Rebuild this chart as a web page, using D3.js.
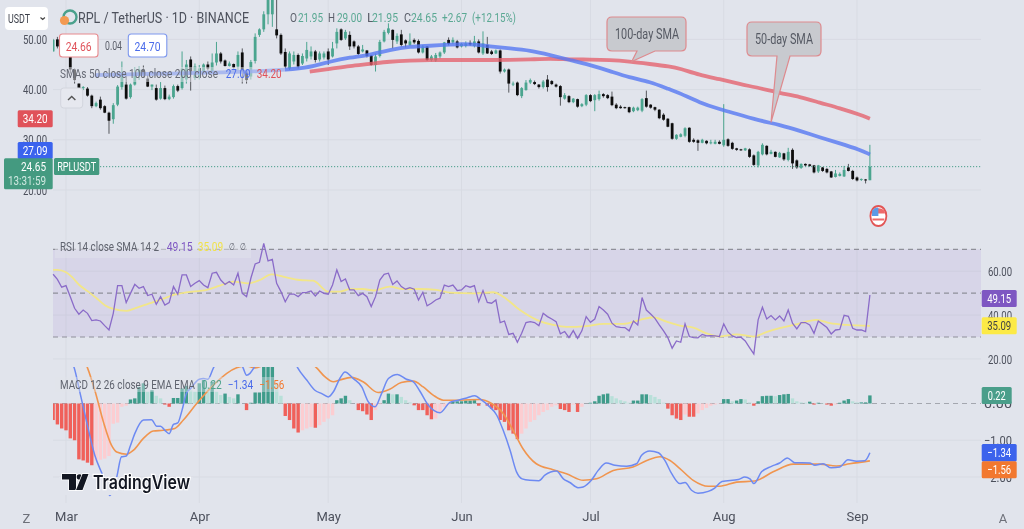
<!DOCTYPE html>
<html>
<head>
<meta charset="utf-8">
<script src="https://cdnjs.cloudflare.com/ajax/libs/d3/7.8.5/d3.min.js"></script>
<style>
html,body{margin:0;padding:0;background:#e1e4ec;}
svg{display:block;filter:blur(0.55px);font-family:"Liberation Sans Narrow",Roboto,sans-serif;}
</style>
</head>
<body>
<div id="chart"></div>
<script>
// ---------- data (one entry per trading day, starting 26 Feb) ----------
const firstDay = "2023-02-26";
const opens = [47.6,50,48.6,50,46.9,44,41.2,40.3,40.2,38.8,36.7,38,36.7,35.4,34.1,37,40.5,41,38.5,41,43,44,42.2,40.6,40.3,38.2,40.3,38.1,38.5,40.7,40.3,42,46,42.3,
42.6,43.6,45,43.6,45.4,47.2,45.8,44.7,45.1,44.6,47.4,43.6,42.6,45.7,50.9,52,55,55,52,50.9,47.5,44.2,45.6,46.9,45.2,46.2,46.6,47.6,46,46.4,47.6,46.6,
49.2,52,50.2,50.9,49.6,48.6,47.6,47.8,46.8,44.9,46.7,49.6,51.3,51.9,49.6,51,49.8,48.9,49.9,49.7,47.4,48.6,45.9,45.8,46.6,47.4,49.9,49.4,49.6,48.6,48.7,49.3,48.7,49.6,47.2,48.9,47.6,47.2,47.8,43.6,44,41,41.4,38.7,39.9,41.4,41.5,41,40.5,42,41.7,41,40.7,38.2,38.7,37.5,38.1,36.7,37,38.9,37.9,38.1,39.1,38.9,38.6,37,36.6,36.5,36.5,35.7,35.9,35.8,38.3,37,36.5,36,35,34.2,
33.3,30.2,30.6,30.8,32.4,30,29.9,29.4,29.8,29.3,29.2,29.6,28.9,30.1,29.4,28.3,28.1,27.9,28.1,26.9,24.9,27.1,28.8,27.2,27.6,26.5,27.3,26,28,25.9,24.4,25.2,25.1,24.9,23.7,24.5,24.2,23.7,22.6,22.8,22.7,24.5,23.8,22.5,22,22.1,21.95];
const highs = [50.1,50.5,51,51,47.5,44.2,41.2,40.7,40.5,39,37.6,38.6,36.9,35.6,37.3,40.9,45.6,42.9,41.2,44.5,44.6,44.8,43,41,41,41.5,40.8,39,41,41,47.6,45.9,46.6,45.2,
44.9,45.2,45.6,47.2,49.5,47.5,46,45.6,45.2,47.6,48.2,43.9,45.9,51.2,52.2,55.6,62,59,58.5,51.2,48.2,47.6,47.6,47.2,47.2,49.5,48.6,47.9,47.6,47.6,48.2,49.5,
52.2,52.2,51.9,51.6,49.8,48.9,48.9,47.9,46.9,47.2,49.9,51.9,53.2,52,51.2,51.9,50,51.2,50.2,50,48.9,48.7,46.9,47.3,47.6,49.5,50.4,50.4,49.9,49.3,49.6,49.8,50.7,50,51.6,50.5,47.9,48,48,44.2,44.2,41.6,41.6,40.5,41.9,42.2,41.8,41.1,41.9,42.9,41.9,41.2,40.9,39.3,38.9,38.3,38.2,37.3,39.1,39.1,39.1,39.8,39.3,39.1,39.6,37.3,36.9,36.6,36.6,36.6,36.6,38.3,39.8,37.1,36.6,36.1,35.3,34.3,
33.4,31.1,31.3,32.5,32.5,30.3,30.1,30.2,29.9,30,30,29.9,37.1,30.3,29.6,28.4,28.2,28.4,28.3,27.1,27.8,29.3,28.9,28,27.7,27.6,27.4,28.4,28.3,26.1,25.3,25.3,25.2,25,25,24.6,24.4,23.8,24,23.5,24.8,25.2,24,22.7,22.3,22.2,29];
const lows = [47.6,48.2,47.5,47.5,43.2,41.2,39.3,39.9,38.6,36.3,36.5,36,35.3,31.2,33.2,36.7,40,38,38.2,40.8,41.9,42.5,40.5,39.9,37.8,38,37.9,37.9,38.2,39.5,40,41.2,39.8,41.9,
42,43.4,43.8,43.4,44.8,45.2,44.6,44.6,44.2,43.9,41.2,41.2,42,45.2,50.5,51.5,53,52.5,50.2,46.9,44.2,43.9,45,44.2,44.9,45.6,46,45.4,45.6,46,44.9,46.4,
48.2,49.7,49.9,47.9,48.2,46.9,47.4,46.4,44.8,43.6,46.4,49.4,51,48.2,49.1,48.6,48.4,48.7,49.1,47.2,47.2,45.7,45.6,45.5,46.2,47.1,48.8,49.1,48.2,48.4,48.4,48.7,48.4,47.2,46.9,47.1,46.9,47.1,43.2,43.4,39.4,40.7,38.7,38.3,39.8,41.1,40.9,40.2,40.2,39.6,40.9,40.4,36.8,38,37.3,37.3,36.4,36.5,36.7,37.5,35.7,37.8,38.4,38.1,36.7,36.1,36.2,36.2,35.3,35.5,35.7,35.5,36.4,36.2,35.7,34.1,33.8,32.5,
30,30,30.5,30.5,29.4,29.4,27.8,29.3,29.1,29.1,29.1,29.1,28.6,28.6,28,27.8,27.8,27.8,26.4,24.8,24.5,26.9,26.9,27.1,26.5,26.4,25.8,25.7,24.2,24.2,24.2,24.7,24.6,23.3,23.4,23.6,23.3,22.4,22.5,22.7,22.6,23.7,22,21.7,21.8,21.3,21.95];
const closes = [49.9,48.6,50,48,44,41.9,40.2,40.5,38.8,36.7,37.3,36.3,35.4,33.8,36.9,40.6,43,38.2,41,43,44,43,40.6,41,38,40.3,38.1,38.6,40.7,39.8,44.2,45,43,44.6,
44.2,45,44.2,45.4,47.2,45.6,44.7,45.2,44.4,46.9,43.6,41.9,45.5,50.5,52,55,59,58,50.8,47.2,44.6,47.2,46.9,44.6,46.7,47.9,47.6,45.9,47.2,47.2,46,48.2,
51.5,49.9,51.5,48.6,48.6,47.1,48,46.7,44.9,46.6,49.5,51.5,52.2,49.9,50.7,48.9,49.2,49.6,49.4,47.4,48.6,45.9,46.6,46.9,47.4,49.4,49.1,49.9,48.4,49.1,49.2,49,49.6,47.4,49.2,47.2,47.1,47.8,43.6,44,41.2,41.2,38.9,40.3,41.4,41.9,41.1,40.5,41.6,40.5,41.1,40.6,38.5,38.9,37.5,38.2,36.6,37.1,38.9,37.7,38.9,39.1,38.7,38.3,36.9,36.3,36.3,36.3,35.5,36.4,36.4,38.1,36.6,36.4,36,34.3,34,32.6,
30.2,31,31.1,32.3,29.6,29.6,29.4,30,29.3,29.5,29.6,29.2,30,28.8,28.2,28,27.9,28.3,26.6,25,27.6,29,27.1,27.6,26.6,27.4,26.1,27.6,25.3,24.5,25.2,24.9,24.8,23.5,24.9,23.8,23.5,22.5,23.3,23.2,24,23.8,22.2,21.9,22.2,21.95,24.65];

const rsiValues = [58.6,56.3,52.7,53.4,48.4,43.1,40.4,42.3,40.8,37.5,37.8,37.3,35.2,33.2,40.8,53.4,53.4,45.7,49.9,54,52.2,53,48.9,49.5,44.9,48.4,44.6,45.7,53,49.5,58.3,58.3,53,54.5,55.7,53.7,52.5,59.1,59.5,56,54,55.3,53.7,59.1,49.9,48.4,56.8,63.3,64.1,72.7,64.7,65.4,54.5,50.7,46.1,49.6,49.6,48.4,50.2,50.4,51,48.7,51,49.9,49.5,53.7,60.6,
55.3,56.5,51.5,51.5,48.9,49.9,48.4,43.9,48.4,56,58.6,59.1,54,55.6,53,51.8,52.5,51.8,46.9,50.4,44.2,45.4,46.9,47.7,53.7,53,53.7,51.2,51.5,53.4,52.7,53.4,46.1,51.2,45.8,45.4,46.9,36.6,37.3,31.2,31.7,27.6,31.7,36.6,37,36.6,35.2,40.8,39.3,38.2,37,31.5,32.5,29.7,32.9,29.4,32.8,39.3,36.7,38.2,43.9,42.3,40.4,36.3,34.7,34.4,34.3,32.8,37.3,35.5,48,42.3,40.5,38.5,35.5,32.8,29.7,24.9,28.2,
27.6,36,30.2,29.7,29.6,31.2,30.5,30.6,30.5,30.2,36,32.2,30.5,29.7,29.9,28.2,25.2,22.3,37.8,43.6,38.2,39.8,37.8,39.6,37.3,42.3,36.3,33.7,36.6,36.6,35.5,31.7,37.3,35.8,34.3,31.4,33.2,33.5,39.9,39.4,34,33.2,33.2,32.5,49.15];

const histogram = [-.45,-.57,-.68,-.73,-.95,-1,-1.52,-1.55,-1.61,-1.68,-1.55,-1.53,-1.5,-1.43,-.55,-.52,-.09,-.06,.11,.14,.45,.55,.32,.36,.21,.14,-.03,-.09,.15,.15,.41,.48,.36,.32,.55,.64,.45,.59,.32,.23,.27,.18,.14,.25,0,-.18,.02,.3,.3,1,1,1,.55,.21,-.34,-.45,-.68,-.79,-.73,-.68,-.64,-.66,-.59,-.5,-.41,-.32,.09,
.14,.21,.09,0,-.18,-.21,-.3,-.45,-.18,-.02,.09,.27,.25,.25,.18,.09,.03,-.05,-.18,-.18,-.32,-.43,-.41,-.23,-.09,-.03,.05,.06,.06,.08,.08,.09,-.06,0,-.06,-.14,-.18,-.45,-.5,-.73,-.82,-.97,-.82,-.68,-.5,-.45,-.32,-.23,-.18,-.09,-.05,-.15,-.18,-.23,-.03,-.23,-.09,0,.02,.06,.21,.25,.27,.2,.14,.09,.06,.02,.08,.08,.25,.25,.23,.18,.12,.02,-.14,-.32,-.41,
-.45,-.3,-.36,-.36,-.27,-.18,-.12,-.06,-.03,-.01,.12,.12,.06,.08,.12,.11,.03,-.06,.06,.2,.21,.21,.2,.23,.25,.26,.14,.06,.03,.02,.05,-.03,.02,.01,-.03,-.06,-.03,.02,.08,.12,.06,.03,.03,.03,.22];

// sparse readings: day offset from 1 March, and value
const sma50Days = [6.7,51.3,58.3,61.4,66,70.7,75.3,80,84.7,89.3,94,98.6,103.3,108,112.6,117.2,121.9,126.5,131,135.8,140.5,142.8,147.4,152,156.7,161.4,166,170.7,175.3,180,184.7,187];
const sma50Vals = [42.9,43.6,44.8,45.6,46.4,46.9,47.9,48.6,48.7,49,49.1,48.6,48.2,47.8,46.9,45.9,44.9,43.7,42.4,41.6,40,39.3,37.4,36.1,35,33.8,33,31.8,30.5,29.3,28,27.09];
const sma100Days = [56.7,61.4,66,70.7,75.3,80,84.7,89.3,94,98.6,103.3,108,112.6,117.2,121.9,126.5,131,135.8,140.5,142.8,147.4,152,156.7,161.4,166,170.7,175.3,180,184.7,187];
const sma100Vals = [43.6,44.1,44.7,45.1,45.6,45.8,45.9,45.9,45.9,45.9,45.9,46,46.2,46,46,45.9,45.6,45.1,44.6,44.2,42.9,42.1,41.1,40.3,39.3,38.6,37.4,36.3,35,34.2];
const rsiMaDays = [-3,-2,0,1.3,3.1,5.2,7.1,9.1,11,14.1,16,18.8,21.9,25,28,32.7,35.8,38.9,42.4,45.1,47.8,50.5,54.4,57.5,61,63.7,66,69.1,71.5,75.3,78.4,82.3,86.2,89.3,94.7,99.4,101.7,105.6,109.5,113.3,116.4,121,125,129.6,133.5,136.6,139.7,142.8,145.9,149,152,156,159.9,162.9,166,169.9,174.6,177.7,181.5,187];
const rsiMaVals = [60.6,60.6,59.5,57.5,53.7,50.7,47.7,44.4,42.8,41.9,43.1,44.9,46.9,49.2,50.4,51.5,53.4,55.3,54.5,56,58.6,57.5,56,55.7,50.7,50.7,51.8,51.9,51.2,53,51.9,51.9,51.5,50.2,49.9,50.4,48.4,42.3,37.8,35.5,34.6,35,36,36,37.8,39,37,35.2,34.3,31.7,30.2,31.2,30.2,32.2,34,35.8,37.8,36.3,35.5,35.09];
const macdDays = [-3,-1,1.9,3.3,4.8,6.7,8.7,10.2,11.8,12.9,14,15,16,18,19.9,21.1,22,23,24,25,26,27,28,29,31,32,33,34.3,37.4,39.7,41.2,42,42.8,43.7,46.7,51.3,53.9,56,57.9,59.5,61,62.2,63.7,64.9,66.8,68.8,70.3,71.9,73.4,75,77.1,79.2,80.8,82.3,84.3,87,89.3,91.2,93.2,95.1,96.7,98.2,100.2,101.7,103.3,104.8,106.1,107.9,110,111.4,114.1,115.7,117.2,119.1,120.3,122.2,123.8,125.7,127.7,130.4,132.7,133.9,135.8,137.8,139.3,140.9,142.8,144,145.5,147,149.4,150.9,152.6,156.4,157.9,159.1,160,161.8,164.1,166,167.8,169.5,173,174.2,176.1,178,180,181.9,183.9,185.8,187];
const macdVals = [1.8,1.5,.97,.27,-.5,-1.41,-2,-2.5,-2,-1.45,-1.43,-1.14,-.82,-.45,-.44,-.62,-.62,-.73,-.82,-.57,-.53,-.18,.27,.41,.66,.68,.66,.97,1.5,1.3,.97,.77,.82,.97,1.6,1.7,.97,.64,.36,.27,.18,.32,.68,.86,.68,.45,.05,-.09,.27,.68,.79,.66,.59,.34,-.05,-.25,.03,.09,.15,.21,.09,-.05,-.32,-.73,-1.27,-1.86,-2.05,-2.09,-2.1,-1.95,-1.84,-2.05,-2.15,-2.29,-2.27,-2.09,-1.82,-1.62,-1.68,-1.71,-1.64,-1.41,-1.29,-1.34,-1.55,-1.91,-2.18,-2.15,-2.36,-2.44,-2.39,-2.3,-2.12,-2.07,-2,-2.05,-2.18,-1.86,-1.71,-1.62,-1.48,-1.61,-1.62,-1.68,-1.64,-1.75,-1.73,-1.53,-1.57,-1.56,-1.34];
const signalDays = [-3,2,5,6.7,8.7,10.6,11.8,14.1,15.7,18,20.3,22.6,25.3,27.3,30.4,34.3,37.4,39.7,42,44,51.3,58.3,60.2,62.2,63.7,66.4,69.1,72.6,75.3,78,80.8,83.1,85.4,87.8,91.6,96.3,99,101.7,104,106.3,109.4,113.3,116.4,120.3,123.4,127.3,131.9,135.1,138.2,140.5,142.8,145.9,149.4,152.1,156,160.2,164.5,169.2,175.3,179.2,182.3,187];
const signalVals = [2.3,1.5,.97,.36,-.5,-1.14,-1.32,-1.38,-1.27,-.95,-.75,-.73,-.68,-.45,0,.5,.82,.97,1.02,.97,1.4,.97,.73,.59,.64,.71,.59,.3,.39,.57,.61,.45,.23,.09,.09,.11,0,-.27,-.73,-1.23,-1.64,-1.8,-1.91,-2.09,-2.05,-1.82,-1.73,-1.55,-1.45,-1.55,-1.77,-2.09,-2.25,-2.25,-2.14,-2.11,-1.86,-1.65,-1.65,-1.7,-1.64,-1.56];

const priceTicks = [50,40,30,20];
const rsiTicks = [60,40,20];
const rsiLevels = [70,50,30];
const macdTicks = [0,-1,-2];
const monthTicks = ["2023-03-01","2023-04-01","2023-05-01","2023-06-01","2023-07-01","2023-08-01","2023-09-01"];
const ohlcLabels = ["21.95","29.00","21.95","24.65","+2.67","(+12.15%)"];

for (const [n,a] of Object.entries({opens,highs,lows,closes,rsiValues,histogram})) {
  if (a.length !== 191) throw new Error(n + " has length " + a.length);
}

// ---------- setup ----------
const W = 1024, H = 529;
const BG = "#e1e4ec", GRID = "#d8dbe3", LABEL = "#4c505c", LEGEND = "#666a75";
const UP = "#4ba58f", DOWN = "#0d0d0d", TEAL = "#4a9e8a";
const L = 53, R = 981;
const LEGEND_SIZE = 12;

const svg = d3.select("#chart").append("svg").attr("width", W).attr("height", H)
  .attr("viewBox", `0 0 ${W} ${H}`).style("background", BG);

const x = d3.scaleUtc().domain([new Date("2023-03-01"), new Date("2023-09-01")]).range([66, 857]);
const marchFirst = +new Date("2023-03-01");
const dx = d => x(new Date(marchFirst + d * 864e5));
const dayOfIndex = i => i - 3;

const yPrice = d3.scaleLinear().domain([20, 50]).range([190, 39.4]);
const yRsi = d3.scaleLinear().domain([30, 70]).range([337, 249.3]);
const yMacd = d3.scaleLinear().domain([-2, 0]).range([477, 403.5]);

const defs = svg.append("defs");
defs.append("clipPath").attr("id", "clipMain").append("rect").attr("x", L).attr("y", 0).attr("width", R - L).attr("height", 235);
defs.append("clipPath").attr("id", "clipMacd").append("rect").attr("x", L).attr("y", 367).attr("width", R - L).attr("height", 136);

// text helper: fits each label to the width it occupies in the picture
function label(g, t, x0, yc, w, opts = {}) {
  const s = g.append("text").attr("x", x0).attr("y", yc).attr("dy", "0.35em")
    .attr("font-size", opts.size || 12.5).attr("fill", opts.fill || LEGEND)
    .attr("font-weight", opts.weight || 400).text(t);
  if (opts.anchor) s.attr("text-anchor", opts.anchor);
  if (w) s.attr("textLength", w).attr("lengthAdjust", "spacingAndGlyphs");
  return s;
}

// ---------- gridlines ----------
const grid = svg.append("g");
grid.append("g").selectAll("line").data(monthTicks).join("line")
  .attr("x1", d => x(new Date(d))).attr("x2", d => x(new Date(d)))
  .attr("y1", 0).attr("y2", 503).attr("stroke", GRID);
[[priceTicks, yPrice], [rsiTicks, yRsi], [macdTicks.slice(1), yMacd]].forEach(([ticks, s]) => {
  grid.append("g").selectAll("line").data(ticks).join("line")
    .attr("x1", L).attr("x2", R).attr("y1", d => s(d)).attr("y2", d => s(d)).attr("stroke", GRID);
});

// ---------- price pane ----------
const main = svg.append("g").attr("clip-path", "url(#clipMain)");
const candleData = closes.map((c, i) => ({ d: dayOfIndex(i), o: opens[i], h: highs[i], l: lows[i], c }));
const candles = main.append("g").selectAll("g").data(candleData).join("g");
candles.append("line")
  .attr("x1", d => dx(d.d)).attr("x2", d => dx(d.d))
  .attr("y1", d => yPrice(d.h)).attr("y2", d => yPrice(d.l))
  .attr("stroke", d => d.c >= d.o ? UP : "#55575c").attr("stroke-width", 1);
candles.append("rect")
  .attr("x", d => dx(d.d) - 1.4).attr("width", 2.8)
  .attr("y", d => yPrice(Math.max(d.o, d.c)))
  .attr("height", d => Math.max(1, Math.abs(yPrice(d.o) - yPrice(d.c))))
  .attr("fill", d => d.c >= d.o ? UP : DOWN);

const smaLine = (days, vals) => d3.line().x((v, i) => dx(days[i])).y(v => yPrice(v)).curve(d3.curveBasis)(vals);
main.append("path").attr("d", smaLine(sma100Days, sma100Vals)).attr("fill", "none")
  .attr("stroke", "#e4606b").attr("stroke-opacity", .78).attr("stroke-width", 3.8);
main.append("path").attr("d", smaLine(sma50Days, sma50Vals)).attr("fill", "none")
  .attr("stroke", "#5678f2").attr("stroke-opacity", .8).attr("stroke-width", 3.8);

// current-price dotted line
svg.append("line").attr("x1", 100).attr("x2", R)
  .attr("y1", yPrice(closes[190])).attr("y2", yPrice(closes[190]))
  .attr("stroke", TEAL).attr("stroke-dasharray", "1.2 1.8").attr("stroke-width", 1);

// Callouts
function callout(xa, ya, xb, yb, tipDay, tipVal, bx0, bx1, text, tx, tw) {
  const r = 5, tip = [dx(tipDay), yPrice(tipVal)];
  const p = d3.path();
  p.moveTo(xa + r, ya); p.lineTo(xb - r, ya); p.quadraticCurveTo(xb, ya, xb, ya + r);
  p.lineTo(xb, yb - r); p.quadraticCurveTo(xb, yb, xb - r, yb);
  p.lineTo(bx1, yb); p.lineTo(tip[0], tip[1]); p.lineTo(bx0, yb);
  p.lineTo(xa + r, yb); p.quadraticCurveTo(xa, yb, xa, yb - r);
  p.lineTo(xa, ya + r); p.quadraticCurveTo(xa, ya, xa + r, ya); p.closePath();
  svg.append("path").attr("d", p.toString()).attr("fill", "#c6c8ce").attr("fill-opacity", .95)
    .attr("stroke", "#de8a8e").attr("stroke-width", 1.2);
  label(svg, text, tx, (ya + yb) / 2, tw, { fill: "#555963", size: 14 });
}
callout(607, 17, 686, 51, 131.6, 45.6, 637, 655, "100-day SMA", 615, 64);
callout(747, 22, 821, 56, 164, 33.5, 777, 790, "50-day SMA", 755, 58);

// Country flag event marker
const flag = svg.append("g").attr("transform", `translate(${dx(187) + 8.5},216)`);
flag.append("ellipse").attr("rx", 8).attr("ry", 10).attr("fill", "#fff").attr("stroke", "#e25555").attr("stroke-width", 1.8);
flag.append("path").attr("d", "M-6.5-4.5a8 8 0 0 1 13 0v2h-13zM-6 2.5h12v2h-12z").attr("fill", "#ee6a6a");
flag.append("path").attr("d", "M-6.2-5.5a7.5 9 0 0 1 6.2-3V0h-6.5z").attr("fill", "#5c9ae6");

// main legend overlay
svg.append("rect").attr("x", 55).attr("y", 67).attr("width", 230).attr("height", 15).attr("fill", BG).attr("opacity", .5);

// ---------- RSI pane ----------
const rsiPane = svg.append("g");
rsiPane.insert("rect", ":first-child").attr("x", L).attr("width", R - L)
  .attr("y", yRsi(70)).attr("height", yRsi(30) - yRsi(70)).attr("fill", "#7e57c2").attr("fill-opacity", .1);
rsiPane.append("g").selectAll("line").data(rsiLevels).join("line")
  .attr("x1", L).attr("x2", R).attr("y1", d => yRsi(d)).attr("y2", d => yRsi(d))
  .attr("stroke", "#8f9099").attr("stroke-width", 1.2).attr("stroke-dasharray", "5 4");
rsiPane.append("path").attr("fill", "none").attr("stroke", "#f2e688").attr("stroke-width", 1.8)
  .attr("d", d3.line().x((v, i) => dx(rsiMaDays[i])).y(v => yRsi(v)).curve(d3.curveMonotoneX)(rsiMaVals));
rsiPane.append("path").attr("fill", "none").attr("stroke", "#8a6bc8").attr("stroke-width", 1.3)
  .attr("d", d3.line().x((v, i) => dx(dayOfIndex(i))).y(v => yRsi(v))(rsiValues));
svg.append("rect").attr("x", 55).attr("y", 241).attr("width", 196).attr("height", 17).attr("fill", BG).attr("opacity", .5);

// ---------- MACD pane ----------
const macdPane = svg.append("g").attr("clip-path", "url(#clipMacd)");
macdPane.append("line").attr("x1", L).attr("x2", R).attr("y1", yMacd(0)).attr("y2", yMacd(0))
  .attr("stroke", "#a4a7af").attr("stroke-dasharray", "5 4");
macdPane.append("g").selectAll("rect").data(histogram).join("rect")
  .attr("x", (v, i) => dx(dayOfIndex(i)) - 1.7).attr("width", 3.4)
  .attr("y", v => Math.min(yMacd(v), yMacd(0)))
  .attr("height", v => Math.abs(yMacd(v) - yMacd(0)))
  .attr("fill", (v, i) => {
    const prev = i ? histogram[i - 1] : v;
    if (v >= 0) return v >= prev ? "#3f9c8b" : "#b8e0d9";
    return v <= prev ? "#f0605a" : "#fccdd1";
  });
macdPane.append("path").attr("fill", "none").attr("stroke", "#f0954f").attr("stroke-width", 1.6)
  .attr("d", d3.line().x((v, i) => dx(signalDays[i])).y(v => yMacd(v)).curve(d3.curveMonotoneX)(signalVals));
macdPane.append("path").attr("fill", "none").attr("stroke", "#6d8af2").attr("stroke-width", 1.5)
  .attr("d", d3.line().x((v, i) => dx(macdDays[i])).y(v => yMacd(v)).curve(d3.curveMonotoneX)(macdVals));
svg.append("rect").attr("x", 55).attr("y", 377).attr("width", 232).attr("height", 15).attr("fill", BG).attr("opacity", .4);

// ---------- axes ----------
const AXIS_FONT = '"Liberation Sans Narrow",Roboto,sans-serif';
function styleAxis(g, w) {
  g.select(".domain").remove();
  g.selectAll("line").remove();
  g.selectAll("text").attr("font-size", 13).attr("fill", LABEL).attr("font-family", AXIS_FONT)
    .attr("textLength", w || null).attr("lengthAdjust", "spacingAndGlyphs");
}
const fmt2 = d => d3.format(".2f")(d).replace("-", "\u2212");
svg.append("g").attr("transform", "translate(47,0)")
  .call(d3.axisLeft(yPrice).tickValues(priceTicks).tickFormat(fmt2).tickSize(0).tickPadding(0))
  .call(g => styleAxis(g, 24));
svg.append("g").attr("transform", "translate(988,0)")
  .call(d3.axisRight(yRsi).tickValues(rsiTicks).tickFormat(fmt2).tickSize(0).tickPadding(0))
  .call(g => styleAxis(g, 24));
svg.append("g").attr("transform", "translate(984,0)")
  .call(d3.axisRight(yMacd).tickValues(macdTicks).tickFormat(fmt2).tickSize(0).tickPadding(0))
  .call(g => styleAxis(g, 28));
svg.append("g").attr("transform", "translate(0,512)")
  .call(d3.axisBottom(x).tickValues(monthTicks.map(d => new Date(d))).tickFormat(d3.utcFormat("%b")).tickSize(0).tickPadding(0))
  .call(g => styleAxis(g));
label(svg, "Z", 26.5, 518, 0, { anchor: "middle", fill: "#6d7079", size: 13 });
label(svg, "A", 1003, 518, 0, { anchor: "middle", fill: "#6d7079", size: 13 });

// ---------- tags ----------
function tag(x0, w, yc, h, fill, text, textW, textFill = "#fff") {
  svg.append("rect").attr("x", x0).attr("y", yc - h / 2).attr("width", w).attr("height", h).attr("fill", fill).attr("rx", 1.5);
  label(svg, text, x0 + w / 2, yc, textW, { anchor: "middle", fill: textFill, size: 13 });
}
tag(17.7, 35, yPrice(sma100Vals.at(-1)), 17, "#e0525a", "34.20", 25);
tag(17.7, 35, yPrice(sma50Vals.at(-1)) - 4, 17, "#3b63ee", "27.09", 25);
svg.append("rect").attr("x", 4).attr("y", 158.3).attr("width", 48.7).attr("height", 31).attr("fill", "#449a80").attr("rx", 1.5);
label(svg, "24.65", 46, yPrice(closes[190]), 25, { anchor: "end", fill: "#fff", size: 13 });
label(svg, "13:31:59", 46, 181, 38, { anchor: "end", fill: "#cfe8e0", size: 12.5 });
tag(54, 45.3, 166.6, 17, "#449a80", "RPLUSDT", 39);

tag(981.7, 35, yRsi(rsiValues[190]) + 3.5, 17, "#7e57c2", "49.15", 24);
tag(981.7, 35, yRsi(rsiMaVals.at(-1)), 17, "#fcea46", "35.09", 24, "#444");
tag(981.7, 30, yMacd(histogram[190]), 17, "#4a9e8a", "0.22", 18);
tag(981.7, 35, yMacd(macdVals.at(-1)), 17.5, "#3c63ec", "\u22121.34", 24);
tag(981.7, 35, yMacd(signalVals.at(-1)) + 9, 17, "#f2782f", "\u22121.56", 24);

// ---------- header & legends ----------
svg.append("rect").attr("x", 5).attr("y", 7).attr("width", 43).attr("height", 23).attr("rx", 4).attr("fill", "#fff");
label(svg, "USDT", 8, 18.5, 22, { fill: "#3a3e48", size: 13 });
svg.append("path").attr("d", "M40.5 17.5l2.2 2 2.2-2").attr("fill", "none").attr("stroke", "#444").attr("stroke-width", 1.2);

const logo = svg.append("g");
logo.append("circle").attr("cx", 70).attr("cy", 17).attr("r", 6.5).attr("fill", "none").attr("stroke", "#4aa08c").attr("stroke-width", 2.4);
logo.append("circle").attr("cx", 64.5).attr("cy", 20.5).attr("r", 4.6).attr("fill", "#f39a52");

label(svg, "RPL / TetherUS \u00b7 1D \u00b7 BINANCE", 78, 18, 171, { fill: "#4d515c", size: 14 });
const ohlcX = [[290,"O"],[328,"H"],[367,"L"],[404,"C"]];
ohlcX.forEach(([px, t]) => label(svg, t, px, 18, 7, { fill: "#5a5e69", size: LEGEND_SIZE }));
[[298,25],[337,25],[372,26],[411,26],[442,25],[472,44]].forEach(([px, w], i) =>
  label(svg, ohlcLabels[i], px, 18, w, { fill: "#5aa893", size: LEGEND_SIZE }));

function priceBox(x0, stroke, t, fill) {
  svg.append("rect").attr("x", x0).attr("y", 34).attr("width", 38.5).attr("height", 23).attr("rx", 3)
    .attr("fill", "#fff").attr("stroke", stroke).attr("stroke-width", 1.1);
  label(svg, t, x0 + 19.2, 46, 26, { anchor: "middle", fill, size: 13.5 });
}
priceBox(59.5, "#e88a8e", "24.66", "#e0525a");
label(svg, "0.04", 105, 46, 17, { fill: "#5a5e69", size: 12 });
priceBox(128.3, "#7e98ee", "24.70", "#4a6bea");

label(svg, "SMAs 50 close 100 close 200 close", 60, 74, 158, { fill: "#666a75", size: LEGEND_SIZE });
label(svg, "27.09", 225.7, 74, 25, { fill: "#4a6bea", size: LEGEND_SIZE });
label(svg, "34.20", 256.7, 74, 25, { fill: "#e0525a", size: LEGEND_SIZE });

svg.append("rect").attr("x", 60.7).attr("y", 88).attr("width", 22).attr("height", 20).attr("rx", 3)
  .attr("fill", "#e6e8ef").attr("stroke", "#d3d6de");
svg.append("path").attr("d", "M68 100l3.7-3.5 3.7 3.5").attr("fill", "none").attr("stroke", "#555").attr("stroke-width", 1.4);

label(svg, "RSI 14 close SMA 14 2", 60, 246.7, 99, { fill: "#5f636e", size: LEGEND_SIZE });
label(svg, "49.15", 166.7, 246.7, 26, { fill: "#7e57c2", size: LEGEND_SIZE });
label(svg, "35.09", 197.7, 246.7, 25.6, { fill: "#f0e24c", size: LEGEND_SIZE });
label(svg, "\u2205", 229.3, 246.7, 6, { fill: "#5f636e", size: 10 });
label(svg, "\u2205", 240, 246.7, 6, { fill: "#5f636e", size: 10 });

label(svg, "MACD 12 26 close 9 EMA EMA", 60, 385, 135, { fill: "#5f636e", size: LEGEND_SIZE });
label(svg, "0.22", 201.7, 385, 20, { fill: "#4fa38d", size: LEGEND_SIZE });
label(svg, "\u22121.34", 227.7, 385, 25.6, { fill: "#4a6bea", size: LEGEND_SIZE });
label(svg, "\u22121.56", 259.3, 385, 25, { fill: "#f2782f", size: LEGEND_SIZE });

// ---------- TradingView mark ----------
const tv = svg.append("g");
tv.append("rect").attr("x", 59).attr("y", 477).attr("width", 134).attr("height", 18).attr("fill", BG);
const tvIcon = tv.append("g").attr("fill", "#131722").attr("stroke", "#fff").attr("stroke-width", 1.4).attr("paint-order", "stroke");
tvIcon.append("path").attr("d", "M62 474H76V490H69V479.5H62Z");
tvIcon.append("circle").attr("cx", 79.5).attr("cy", 477).attr("r", 2.8);
tvIcon.append("path").attr("d", "M82.5 474H88.5L82.5 490H76Z");
label(tv, "TradingView", 93, 482, 97, { fill: "#131722", size: 19, weight: 600 })
  .attr("stroke", "#fff").attr("stroke-width", 2.4).attr("paint-order", "stroke").style("font-family", "Inter,Roboto,sans-serif");
</script>
</body>
</html>
